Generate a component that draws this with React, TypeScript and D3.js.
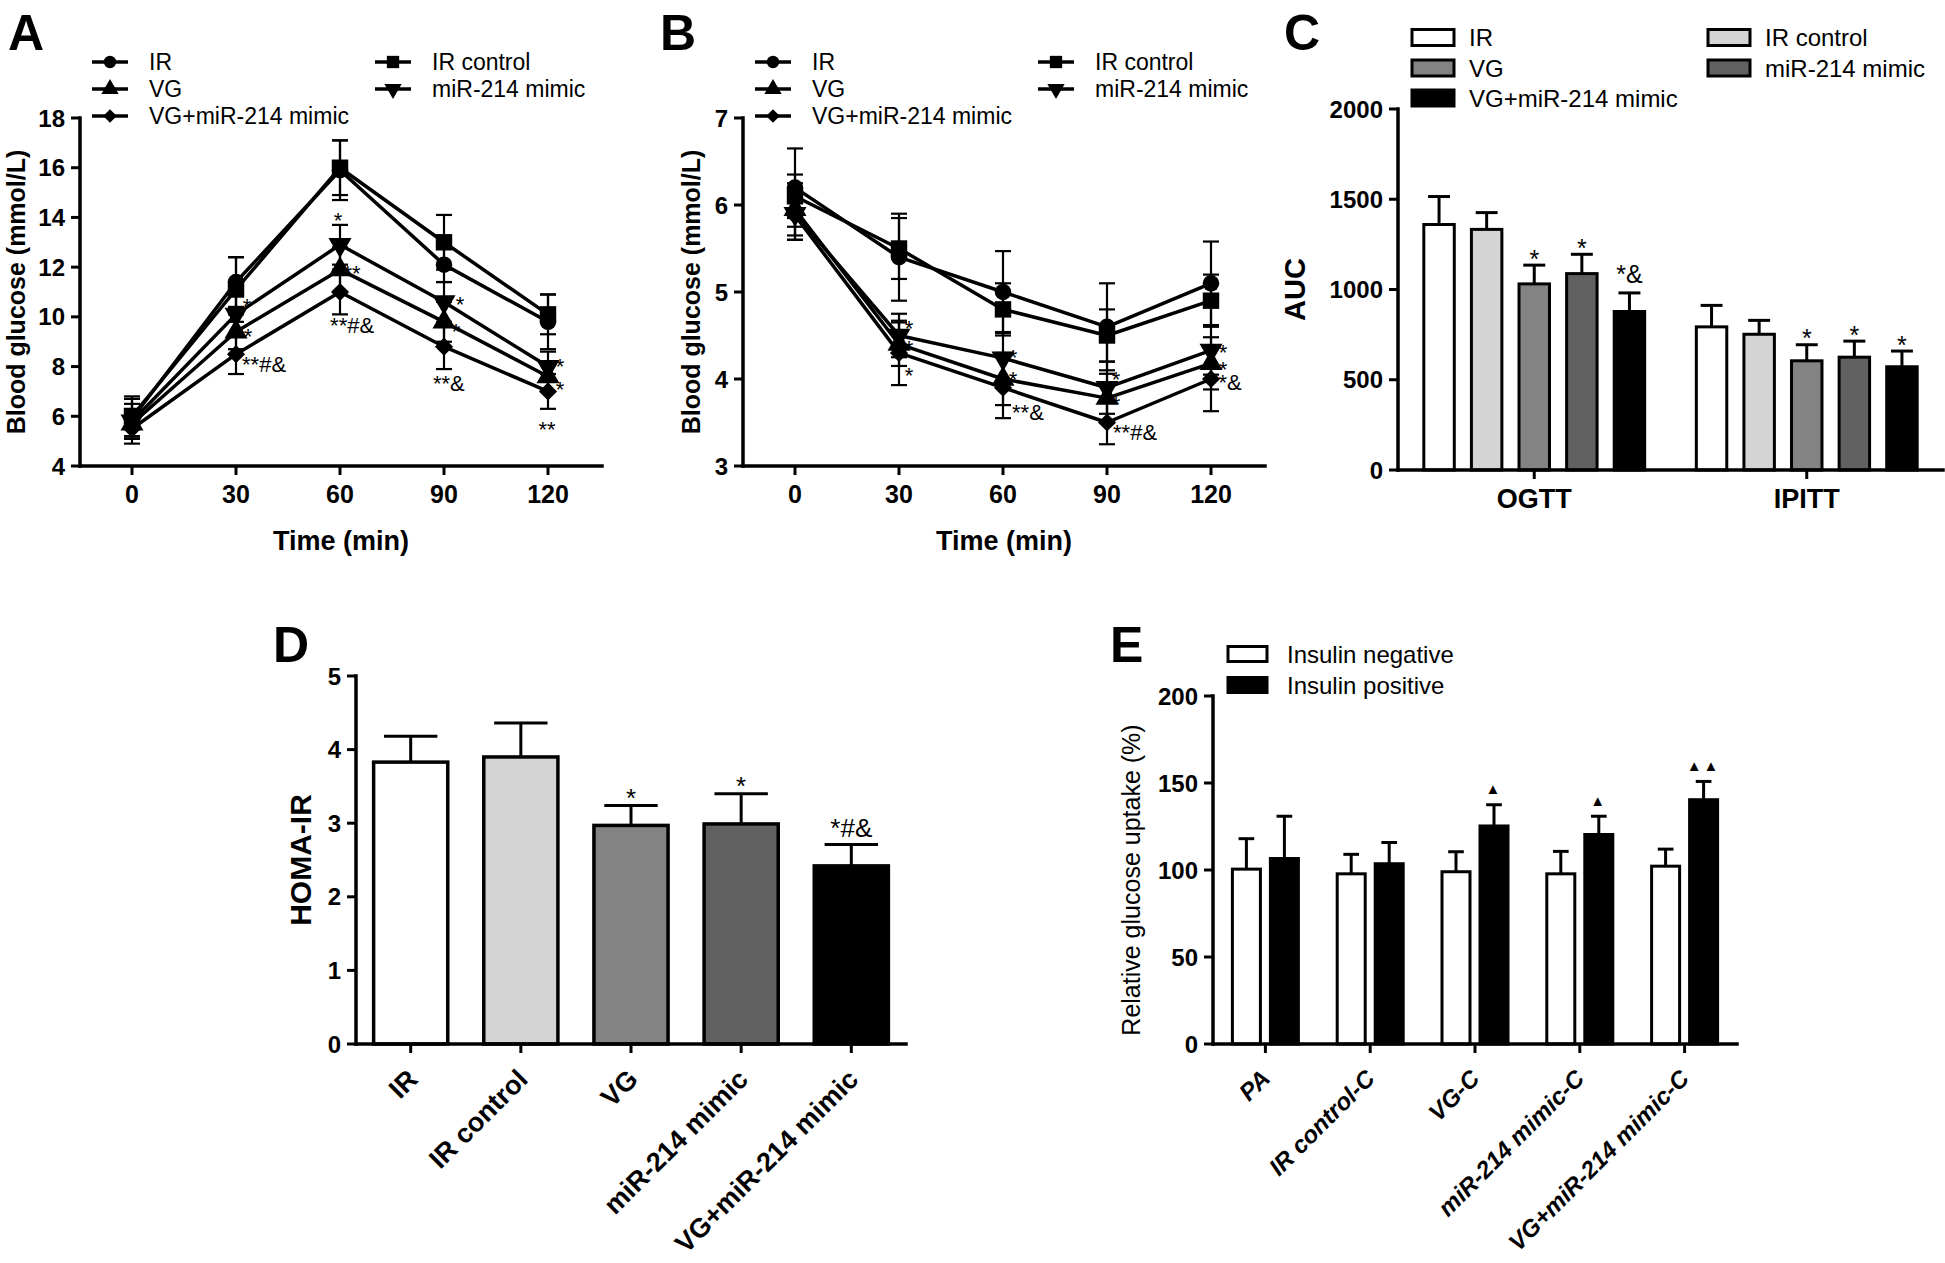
import React from "react";
import * as d3 from "d3";

const FONT = "'Liberation Sans', Arial, Helvetica, sans-serif";
const W = 1945;
const H = 1263;

// ---------- shared ----------
const timePoints = [0, 30, 60, 90, 120];
const groupNames = ["IR", "IR control", "VG", "miR-214 mimic", "VG+miR-214 mimic"];
const groupFills = ["#ffffff", "#d4d4d4", "#838383", "#616161", "#000000"];

// ---------- Panel A: OGTT blood glucose (mmol/L) ----------
const ogttIR = [5.9, 11.4, 15.9, 12.1, 9.8];
const ogttIRSd = [0.8, 1.0, 1.2, 0.7, 1.1];
const ogttIRControl = [6.0, 11.1, 16.0, 13.0, 10.1];
const ogttIRControlSd = [0.8, 1.3, 1.1, 1.1, 0.8];
const ogttVG = [5.7, 9.4, 11.9, 9.8, 7.6];
const ogttVGSd = [0.6, 0.7, 0.9, 0.8, 0.6];
const ogttMimic = [5.8, 10.1, 12.9, 10.6, 8.0];
const ogttMimicSd = [0.7, 0.9, 0.8, 0.8, 0.6];
const ogttVGMimic = [5.5, 8.5, 11.0, 8.8, 7.0];
const ogttVGMimicSd = [0.6, 0.8, 0.9, 0.9, 0.7];
const ogttYTicks = [4, 6, 8, 10, 12, 14, 16, 18];
const ogttMarkTimes = [33.2, 33.5, 38.1, 59.4, 63.5, 63.5, 94.6, 93.5, 91.4, 123.5, 123.5, 119.7];
const ogttMarkValues = [10.64, 9.41, 8.09, 14.1, 11.94, 9.67, 10.71, 9.63, 7.32, 8.2, 7.3, 5.69];
const ogttMarkTexts = ["*", "*", "**#&", "*", "**", "**#&", "*", "*", "**&", "*", "*", "**"];

// ---------- Panel B: IPITT blood glucose (mmol/L) ----------
const ipittIR = [6.2, 5.4, 5.0, 4.6, 5.1];
const ipittIRSd = [0.45, 0.5, 0.47, 0.5, 0.48];
const ipittIRControl = [6.1, 5.5, 4.8, 4.5, 4.9];
const ipittIRControlSd = [0.25, 0.35, 0.3, 0.3, 0.3];
const ipittVG = [5.95, 4.4, 4.0, 3.78, 4.18];
const ipittVGSd = [0.3, 0.25, 0.3, 0.28, 0.3];
const ipittMimic = [5.9, 4.5, 4.24, 3.9, 4.33];
const ipittMimicSd = [0.3, 0.25, 0.3, 0.3, 0.28];
const ipittVGMimic = [5.88, 4.3, 3.9, 3.5, 4.0];
const ipittVGMimicSd = [0.28, 0.37, 0.35, 0.25, 0.37];
const ipittYTicks = [3, 4, 5, 6, 7];
const ipittMarkTimes = [32.9, 32.9, 32.9, 62.9, 62.9, 67.2, 92.6, 92.6, 98.1, 123.5, 123.5, 125.5];
const ipittMarkValues = [4.64, 4.41, 4.1, 4.31, 4.06, 3.62, 4.06, 3.77, 3.39, 4.36, 4.17, 3.96];
const ipittMarkTexts = ["*", "*", "*", "*", "*", "**&", "*", "*", "**#&", "*", "*", "*&"];

// ---------- Panel C: AUC ----------
const aucTests = ["OGTT", "IPITT"];
const aucOGTT = [1360, 1333, 1031, 1088, 878];
const aucOGTTSd = [155, 93, 104, 107, 103];
const aucIPITT = [793, 752, 605, 625, 572];
const aucIPITTSd = [119, 77, 89, 89, 87];
const aucOGTTMarks = ["", "", "*", "*", "*&"];
const aucIPITTMarks = ["", "", "*", "*", "*"];
const aucYTicks = [0, 500, 1000, 1500, 2000];

// ---------- Panel D: HOMA-IR ----------
const homaIR = [3.83, 3.9, 2.97, 2.99, 2.42];
const homaIRSd = [0.35, 0.46, 0.27, 0.41, 0.29];
const homaMarks = ["", "", "*", "*", "*#&"];
const homaYTicks = [0, 1, 2, 3, 4, 5];

// ---------- Panel E: relative glucose uptake (%) ----------
const uptakeCategories = ["PA", "IR control-C", "VG-C", "miR-214 mimic-C", "VG+miR-214 mimic-C"];
const uptakeConditions = ["Insulin negative", "Insulin positive"];
const uptakeNeg = [100.5, 97.8, 99.0, 97.8, 102.2];
const uptakeNegSd = [17.5, 11.2, 11.5, 12.9, 9.8];
const uptakePos = [106.6, 103.6, 125.3, 120.4, 140.4];
const uptakePosSd = [24.3, 12.2, 12.2, 10.5, 10.5];
const uptakePosMarks = ["", "", "▲", "▲", "▲▲"];
const uptakeYTicks = [0, 50, 100, 150, 200];

const diamond = (d3 as any).symbolDiamond2 || d3.symbolDiamond;
const symbolTypes = [d3.symbolCircle, d3.symbolSquare, d3.symbolTriangle, d3.symbolTriangle, diamond];
const symbolSizes = [215, 270, 230, 230, 210];
const symbolRot = [0, 0, 0, 180, 0];
const symPath = (i: number) => d3.symbol().type(symbolTypes[i] as any).size(symbolSizes[i])() as string;

const isStars = (t: string) => /^\*+$/.test(t);
const markDy = (t: string) => (isStars(t) ? "0.58em" : "0.36em");

// legend slot layout: [col, row]
const legendSlots = [
  [0, 0],
  [1, 0],
  [0, 1],
  [1, 1],
  [0, 2],
];

function YAxis({ x, scale, ticks, fontSize = 24 }: any) {
  const [r0, r1] = scale.range();
  return (
    <g>
      <line x1={x} x2={x} y1={r0} y2={r1} stroke="#000" strokeWidth={3.5} strokeLinecap="square" />
      {ticks.map((t: number) => (
        <g key={t}>
          <line x1={x - 9} x2={x} y1={scale(t)} y2={scale(t)} stroke="#000" strokeWidth={3} />
          <text x={x - 15} y={scale(t)} dy="0.36em" textAnchor="end" fontSize={fontSize} fontWeight="bold">
            {t}
          </text>
        </g>
      ))}
    </g>
  );
}

function LinePanel(p: any) {
  const { left, top, bottom, yDomain, yTicks, series, markTimes, markValues, markTexts, letter, letterX, yLabelX } = p;
  const x = d3.scaleLinear().domain([0, 120]).range([left + 52, left + 468]);
  const y = d3.scaleLinear().domain(yDomain).range([bottom, top]);
  const axisEnd = left + 522;
  const line = d3
    .line<number>()
    .x((_, i) => x(timePoints[i]))
    .y((d) => y(d));
  const legendX = [left + 12, left + 295];
  const legendRows = [62, 89, 116];
  return (
    <g>
      <text x={letterX} y={50} fontSize={50} fontWeight="bold">
        {letter}
      </text>
      {groupNames.map((g, i) => {
        const [c, r] = legendSlots[i];
        const lx = legendX[c];
        const ly = legendRows[r];
        return (
          <g key={g}>
            <line x1={lx} x2={lx + 36} y1={ly} y2={ly} stroke="#000" strokeWidth={3.5} />
            <path d={symPath(i)} transform={`translate(${lx + 18},${ly}) rotate(${symbolRot[i]}) scale(0.75)`} fill="#000" />
            <text x={lx + 57} y={ly} dy="0.36em" fontSize={23}>
              {g}
            </text>
          </g>
        );
      })}
      {series.map((s: any, si: number) =>
        s.values.map((v: number, i: number) => {
          const cx = x(timePoints[i]);
          const y1 = y(v - s.sd[i]);
          const y2 = y(v + s.sd[i]);
          return (
            <g key={`${si}-${i}`} stroke="#000" strokeWidth={2.2}>
              <line x1={cx} x2={cx} y1={y1} y2={y2} />
              <line x1={cx - 8} x2={cx + 8} y1={y1} y2={y1} />
              <line x1={cx - 8} x2={cx + 8} y1={y2} y2={y2} />
            </g>
          );
        })
      )}
      {series.map((s: any, si: number) => (
        <path key={si} d={line(s.values) as string} fill="none" stroke="#000" strokeWidth={3.5} strokeLinejoin="round" />
      ))}
      {series.map((s: any, si: number) =>
        s.values.map((v: number, i: number) => (
          <path
            key={`m${si}-${i}`}
            d={symPath(si)}
            transform={`translate(${x(timePoints[i])},${y(v)}) rotate(${symbolRot[si]})`}
            fill="#000"
          />
        ))
      )}
      <YAxis x={left} scale={y} ticks={yTicks} />
      <line x1={left} x2={axisEnd} y1={bottom} y2={bottom} stroke="#000" strokeWidth={3.5} strokeLinecap="square" />
      {timePoints.map((t) => (
        <g key={t}>
          <line x1={x(t)} x2={x(t)} y1={bottom} y2={bottom + 9} stroke="#000" strokeWidth={3} />
          <text x={x(t)} y={bottom + 37} textAnchor="middle" fontSize={25} fontWeight="bold">
            {t}
          </text>
        </g>
      ))}
      <text x={(left + axisEnd) / 2} y={bottom + 84} textAnchor="middle" fontSize={27} fontWeight="bold">
        Time (min)
      </text>
      <text
        transform={`translate(${yLabelX},${(top + bottom) / 2}) rotate(-90)`}
        textAnchor="middle"
        dy="0.36em"
        fontSize={25}
        fontWeight="bold"
      >
        Blood glucose (mmol/L)
      </text>
      {markTexts.map((t: string, i: number) => (
        <text key={i} x={x(markTimes[i])} y={y(markValues[i])} dy={markDy(t)} textAnchor="middle" fontSize={22}>
          {t}
        </text>
      ))}
    </g>
  );
}

function PanelC() {
  const left = 1398;
  const right = 1943;
  const bottom = 470;
  const y = d3.scaleLinear().domain([0, 2000]).range([bottom, 109]);
  const xg = d3.scalePoint<string>().domain(aucTests).range([left, right]).padding(0.5);
  const xi = d3.scaleBand<string>().domain(groupNames).range([-119, 119]).paddingInner(0.36).paddingOuter(0.18);
  const bw = xi.bandwidth();
  const data = [
    { test: "OGTT", values: aucOGTT, sd: aucOGTTSd, marks: aucOGTTMarks },
    { test: "IPITT", values: aucIPITT, sd: aucIPITTSd, marks: aucIPITTMarks },
  ];
  const legendX = [1412, 1708];
  const legendRows = [37.5, 68, 98];
  return (
    <g>
      <text x={1284} y={50} fontSize={50} fontWeight="bold">
        C
      </text>
      {groupNames.map((g, i) => {
        const [c, r] = legendSlots[i];
        return (
          <g key={g}>
            <rect x={legendX[c]} y={legendRows[r] - 8} width={42} height={16} fill={groupFills[i]} stroke="#000" strokeWidth={3} />
            <text x={legendX[c] + 57} y={legendRows[r]} dy="0.36em" fontSize={24}>
              {g}
            </text>
          </g>
        );
      })}
      {data.map((d) =>
        d.values.map((v, i) => {
          const cx = (xg(d.test) as number) + (xi(groupNames[i]) as number) + bw / 2;
          const yt = y(v + d.sd[i]);
          const t = d.marks[i];
          return (
            <g key={`${d.test}${i}`}>
              <line x1={cx} x2={cx} y1={y(v)} y2={yt} stroke="#000" strokeWidth={3} />
              <line x1={cx - bw * 0.36} x2={cx + bw * 0.36} y1={yt} y2={yt} stroke="#000" strokeWidth={3} />
              <rect x={cx - bw / 2} y={y(v)} width={bw} height={bottom - y(v)} fill={groupFills[i]} stroke="#000" strokeWidth={3} />
              {t && (
                <text x={cx} y={yt - (isStars(t) ? 12 : 19)} dy={markDy(t)} textAnchor="middle" fontSize={25}>
                  {t}
                </text>
              )}
            </g>
          );
        })
      )}
      <YAxis x={left} scale={y} ticks={aucYTicks} />
      <line x1={left} x2={right} y1={bottom} y2={bottom} stroke="#000" strokeWidth={3.5} strokeLinecap="square" />
      {aucTests.map((t) => (
        <g key={t}>
          <line x1={xg(t)} x2={xg(t)} y1={bottom} y2={bottom + 9} stroke="#000" strokeWidth={3} />
          <text x={xg(t)} y={bottom + 38} textAnchor="middle" fontSize={27} fontWeight="bold">
            {t}
          </text>
        </g>
      ))}
      <text transform={`translate(1295,${(bottom + 109) / 2}) rotate(-90)`} textAnchor="middle" dy="0.36em" fontSize={29} fontWeight="bold">
        AUC
      </text>
    </g>
  );
}

function PanelD() {
  const left = 356;
  const right = 906;
  const bottom = 1044;
  const y = d3.scaleLinear().domain([0, 5]).range([bottom, 676]);
  const x = d3.scaleBand<string>().domain(groupNames).range([left, right]).paddingInner(0.327).paddingOuter(0.16);
  const bw = x.bandwidth();
  return (
    <g>
      <text x={273} y={662} fontSize={50} fontWeight="bold">
        D
      </text>
      {homaIR.map((v, i) => {
        const cx = (x(groupNames[i]) as number) + bw / 2;
        const yt = y(v + homaIRSd[i]);
        const t = homaMarks[i];
        return (
          <g key={i}>
            <line x1={cx} x2={cx} y1={y(v)} y2={yt} stroke="#000" strokeWidth={3} />
            <line x1={cx - bw * 0.36} x2={cx + bw * 0.36} y1={yt} y2={yt} stroke="#000" strokeWidth={3} />
            <rect x={cx - bw / 2} y={y(v)} width={bw} height={bottom - y(v)} fill={groupFills[i]} stroke="#000" strokeWidth={3.5} />
            {t && (
              <text x={cx} y={yt - (isStars(t) ? 14 : 17)} dy={markDy(t)} textAnchor="middle" fontSize={26}>
                {t}
              </text>
            )}
          </g>
        );
      })}
      <YAxis x={left} scale={y} ticks={homaYTicks} />
      <line x1={left} x2={right} y1={bottom} y2={bottom} stroke="#000" strokeWidth={3.5} strokeLinecap="square" />
      {groupNames.map((g) => {
        const cx = (x(g) as number) + bw / 2;
        return (
          <g key={g}>
            <line x1={cx} x2={cx} y1={bottom} y2={bottom + 9} stroke="#000" strokeWidth={3} />
            <text transform={`translate(${cx + 8.5},${bottom + 37}) rotate(-45)`} textAnchor="end" fontSize={27} fontWeight="bold">
              {g}
            </text>
          </g>
        );
      })}
      <text transform={`translate(300,${(bottom + 676) / 2}) rotate(-90)`} textAnchor="middle" dy="0.36em" fontSize={30} fontWeight="bold">
        HOMA-IR
      </text>
    </g>
  );
}

function PanelE() {
  const left = 1213;
  const right = 1737;
  const bottom = 1044;
  const y = d3.scaleLinear().domain([0, 200]).range([bottom, 696]);
  const xg = d3.scalePoint<string>().domain(uptakeCategories).range([left, right]).padding(0.5);
  const xi = d3.scaleBand<string>().domain(uptakeConditions).range([-33, 33]).paddingInner(0.263);
  const bw = xi.bandwidth();
  const series = [
    { cond: uptakeConditions[0], values: uptakeNeg, sd: uptakeNegSd, fill: "#ffffff", marks: ["", "", "", "", ""] },
    { cond: uptakeConditions[1], values: uptakePos, sd: uptakePosSd, fill: "#000000", marks: uptakePosMarks },
  ];
  const legendRows = [654, 685];
  return (
    <g>
      <text x={1110} y={662} fontSize={50} fontWeight="bold">
        E
      </text>
      {series.map((s, k) => (
        <g key={s.cond}>
          <rect x={1228} y={legendRows[k] - 7.5} width={39} height={15} fill={s.fill} stroke="#000" strokeWidth={3} />
          <text x={1287} y={legendRows[k]} dy="0.36em" fontSize={24}>
            {s.cond}
          </text>
        </g>
      ))}
      {series.map((s) =>
        s.values.map((v, i) => {
          const cx = (xg(uptakeCategories[i]) as number) + (xi(s.cond) as number) + bw / 2;
          const yt = y(v + s.sd[i]);
          const t = s.marks[i];
          return (
            <g key={`${s.cond}${i}`}>
              <line x1={cx} x2={cx} y1={y(v)} y2={yt} stroke="#000" strokeWidth={3} />
              <line x1={cx - bw * 0.28} x2={cx + bw * 0.28} y1={yt} y2={yt} stroke="#000" strokeWidth={3} />
              <rect x={cx - bw / 2} y={y(v)} width={bw} height={bottom - y(v)} fill={s.fill} stroke="#000" strokeWidth={3} />
              {t && (
                <text x={cx} y={yt - 16} dy="0.36em" textAnchor="middle" fontSize={15} letterSpacing={2}>
                  {t}
                </text>
              )}
            </g>
          );
        })
      )}
      <YAxis x={left} scale={y} ticks={uptakeYTicks} />
      <line x1={left} x2={right} y1={bottom} y2={bottom} stroke="#000" strokeWidth={3.5} strokeLinecap="square" />
      {uptakeCategories.map((c) => (
        <g key={c}>
          <line x1={xg(c)} x2={xg(c)} y1={bottom} y2={bottom + 9} stroke="#000" strokeWidth={3} />
          <text
            transform={`translate(${(xg(c) as number) + 6},${bottom + 36}) rotate(-45)`}
            textAnchor="end"
            fontSize={24}
            fontWeight="bold"
            fontStyle="italic"
          >
            {c}
          </text>
        </g>
      ))}
      <text transform={`translate(1131,880) rotate(-90)`} textAnchor="middle" dy="0.36em" fontSize={25}>
        Relative glucose uptake (%)
      </text>
    </g>
  );
}

export default function App() {
  const ogttSeries = [
    { values: ogttIR, sd: ogttIRSd },
    { values: ogttIRControl, sd: ogttIRControlSd },
    { values: ogttVG, sd: ogttVGSd },
    { values: ogttMimic, sd: ogttMimicSd },
    { values: ogttVGMimic, sd: ogttVGMimicSd },
  ];
  const ipittSeries = [
    { values: ipittIR, sd: ipittIRSd },
    { values: ipittIRControl, sd: ipittIRControlSd },
    { values: ipittVG, sd: ipittVGSd },
    { values: ipittMimic, sd: ipittMimicSd },
    { values: ipittVGMimic, sd: ipittVGMimicSd },
  ];
  return (
    <svg
      width={W}
      height={H}
      viewBox={`0 0 ${W} ${H}`}
      style={{ position: "absolute", left: 0, top: 0, display: "block", background: "#fff" }}
      fontFamily={FONT}
    >
      <rect width={W} height={H} fill="#fff" />
      <LinePanel
        left={80}
        top={118}
        bottom={466}
        yDomain={[4, 18]}
        yTicks={ogttYTicks}
        series={ogttSeries}
        markTimes={ogttMarkTimes}
        markValues={ogttMarkValues}
        markTexts={ogttMarkTexts}
        letter="A"
        letterX={8}
        yLabelX={16}
      />
      <LinePanel
        left={743}
        top={118}
        bottom={466}
        yDomain={[3, 7]}
        yTicks={ipittYTicks}
        series={ipittSeries}
        markTimes={ipittMarkTimes}
        markValues={ipittMarkValues}
        markTexts={ipittMarkTexts}
        letter="B"
        letterX={660}
        yLabelX={691}
      />
      <PanelC />
      <PanelD />
      <PanelE />
    </svg>
  );
}
